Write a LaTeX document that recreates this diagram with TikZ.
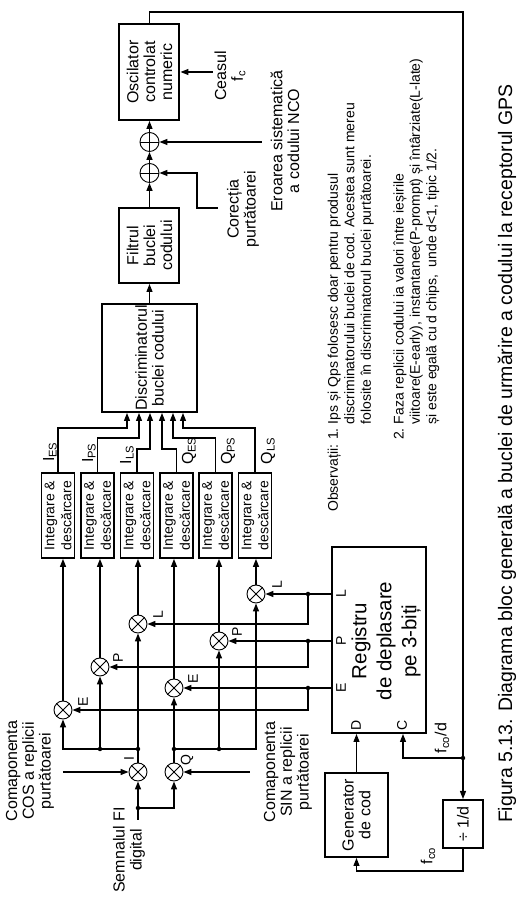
\documentclass[tikz,border=0pt]{standalone}
\usepackage{fontspec}
\setmainfont{Liberation Sans}
\usetikzlibrary{arrows.meta,calc}
\newcommand{\fmain}{\fontsize{16}{16.8}\selectfont}
\newcommand{\fint}{\fontsize{14}{17}\selectfont}
\newcommand{\fnote}{\fontsize{14}{16.4}\selectfont}
\newcommand{\freg}{\fontsize{20.5}{25}\selectfont}
\newcommand{\fcap}{\fontsize{19.5}{22}\selectfont}
\newcommand{\flab}{\fontsize{14}{15}\selectfont}
\begin{document}
\begin{tikzpicture}[
  box/.style={draw, line width=2pt, inner sep=0pt, align=center, font=\fmain},
  intbox/.style={draw, line width=1.8pt, inner sep=0pt, align=center, font=\fint, minimum width=85pt, minimum height=33pt},
  mult/.style={draw, circle, line width=0.9pt, minimum size=18pt, inner sep=0pt},
  conn/.style={line width=1.3pt},
  arr/.style={conn, -{Triangle[length=8pt,width=6pt]}},
  jdot/.style={circle, fill, inner sep=0pt, minimum size=4.5pt},
  lab/.style={font=\flab, inner sep=0pt},
  txt/.style={font=\fmain, align=center, inner sep=0pt},
]
\begin{scope}[rotate=90, transform shape, x={(0pt,-1pt)}, y={(-1pt,0pt)}, shift={(899pt,528pt)}]
\fill[white] (0,0) rectangle (528,899);
\path[use as bounding box] (0,0) rectangle (528,899);

% main blocks
\node[box, minimum width=96pt, minimum height=60pt] (nco) at (149.5,72) {Oscilator\\controlat\\numeric};
\node[mult, minimum size=19pt] (add1) at (149.5,142) {};
\node[mult, minimum size=19pt] (add2) at (149.5,173) {};
\draw[line width=0.9pt] (add1.north) -- (add1.south) (add1.east) -- (add1.west);
\draw[line width=0.9pt] (add2.north) -- (add2.south) (add2.east) -- (add2.west);
\node[box, minimum width=75pt, minimum height=60pt] (filt) at (149.5,245.5) {Filtrul\\buclei\\codului};
\node[box, minimum width=108pt, minimum height=95pt] (disc) at (149.5,358) {Discriminatorul\\buclei codului};

\foreach \n/\xx in {1/58,2/97.5,3/137,4/176.5,5/215.5,6/255}
  \node[intbox] (int\n) at (\xx,515.5) {Integrare \&\\descărcare};

\foreach \nm/\xx/\yy in {mIES/63/710, mIPS/100/667, mILS/138/624, mQES/174/688, mQPS/219/641, mQLS/256/594, mI/138/772, mQ/174/772}{
  \node[mult] (\nm) at (\xx,\yy) {};
  \draw[line width=0.9pt] (\nm.45) -- (\nm.225) (\nm.135) -- (\nm.315);
}

\node[box, minimum width=186pt, minimum height=94pt] (reg) at (379,640) {};
\node[font=\freg, align=center, inner sep=0pt] (regt) at (386,641) {Registru\\de deplasare\\pe 3-biți};
\node[box, minimum width=84pt, minimum height=63pt] (gen) at (356.5,815) {Generator\\de cod};
\node[box, minimum width=48pt, minimum height=40pt] (div) at (463,824) {÷ 1/d};

% coordinates
\coordinate (fi) at (138,820);
\coordinate (fij) at (138,808);
\coordinate (cosS) at (63,772);
\coordinate (sinS) at (250,772);
\coordinate (ib) at (138,749);
\coordinate (ib2) at (100,749);
\coordinate (qb) at (174,749);
\coordinate (qb2) at (219,749);
\coordinate (clk) at (213,72);
\coordinate (err) at (262,142);
\coordinate (cor) at (218,208);
\coordinate (fb) at (463,758);
\coordinate (jL) at (308,594);
\coordinate (jP) at (308,641);
\coordinate (jE) at (308,688);

% input stage
\draw[arr] (fi) -- (mI.west);
\draw[arr] (fij) -- (174,808) -- (mQ.west);
\draw[arr] (cosS) -- (mI.north);
\draw[arr] (sinS) -- (mQ.south);
\draw[arr] (mI.east) -- (mILS.west);
\draw[arr] (ib) -- (63,749) -- (mIES.west);
\draw[arr] (ib2) -- (mIPS.west);
\draw[arr] (mQ.east) -- (mQES.west);
\draw[arr] (qb) -- (256,749) -- (mQLS.west);
\draw[arr] (qb2) -- (mQPS.west);

% multipliers to integrators
\draw[arr] (mIES.east) -- ($(int1.south west)!(mIES)!(int1.north west)$);
\draw[arr] (mIPS.east) -- ($(int2.south west)!(mIPS)!(int2.north west)$);
\draw[arr] (mILS.east) -- ($(int3.south west)!(mILS)!(int3.north west)$);
\draw[arr] (mQES.east) -- ($(int4.south west)!(mQES)!(int4.north west)$);
\draw[arr] (mQPS.east) -- ($(int5.south west)!(mQPS)!(int5.north west)$);
\draw[arr] (mQLS.east) -- ($(int6.south west)!(mQLS)!(int6.north west)$);

% integrators to discriminator
\draw[arr] (int1.east) -- (58,428) -- (127,428) -- ($(disc.south west)!(127,428)!(disc.north west)$);
\draw[arr] (int2.east) -- (97.5,438) -- (139,438) -- ($(disc.south west)!(139,438)!(disc.north west)$);
\draw[arr] (int3.east) -- (137,449) -- (150,449) -- ($(disc.south west)!(150,449)!(disc.north west)$);
\draw[arr] (int4.east) -- (176.5,449) -- (162,449) -- ($(disc.south west)!(162,449)!(disc.north west)$);
\draw[arr] (int5.east) -- (215.5,438) -- (173,438) -- ($(disc.south west)!(173,438)!(disc.north west)$);
\draw[arr] (int6.east) -- (255,428) -- (183,428) -- ($(disc.south west)!(183,428)!(disc.north west)$);

% loop path
\draw[arr] (disc.east) -- (filt.west);
\draw[arr] (filt.east) -- (add2.west);
\draw[arr] (add2.east) -- (add1.west);
\draw[arr] (add1.east) -- (nco.west);
\draw[arr] (clk) -- (nco.south);
\draw[arr] (err) -- (add1.south);
\draw[arr] (cor) -- (197,208) -- (197,173) -- (add2.south);
\draw[arr] (nco.east) -- (149.5,12) -- (463,12) -- (div.east);
\draw[arr] (fb) -- (403,758) -- ($(reg.south west)!(403,758)!(reg.north west)$);
\draw[arr] (gen.east) -- ($(reg.south west)!(gen)!(reg.north west)$);
\draw[arr] (div.west) -- (463,871) -- (356.5,871) -- (gen.west);

% register outputs
\draw[arr] ($(reg.north west)!(jL)!(reg.north east)$) -- (mQLS.south);
\draw[arr] (jL) -- (308,624) -- (mILS.south);
\draw[arr] ($(reg.north west)!(jP)!(reg.north east)$) -- (mQPS.south);
\draw[arr] (jP) -- (308,667) -- (mIPS.south);
\draw[arr] ($(reg.north west)!(jE)!(reg.north east)$) -- (mQES.south);
\draw[arr] (jE) -- (308,710) -- (mIES.south);

\foreach \c in {fij,ib,ib2,qb,qb2,jL,jP,jE,fb} \node[jdot] at (\c) {};

% labels
\node[lab] (rL) at (341,594) {L};
\node[lab] (rP) at (341,641) {P};
\node[lab] (rE) at (341,688) {E};
\node[lab] (rD) at (356,725) {D};
\node[lab] (rC) at (402,725) {C};
\node[lab] (lQLS) at (277,585) {L};
\node[lab] (lILS) at (158,615) {L};
\node[lab] (lQPS) at (237,632) {P};
\node[lab] (lIPS) at (118,658) {P};
\node[lab] (lQES) at (193,679) {E};
\node[lab] (lIES) at (83,702) {E};
\node[lab] (lI) at (129,759) {I};
\node[lab] (lQ) at (187,760) {Q};

\node[txt] (oIES) at (50,452) {I\textsubscript{ES}};
\node[txt] (oIPS) at (89,453) {I\textsubscript{PS}};
\node[txt] (oILS) at (127,455) {I\textsubscript{LS}};
\node[txt] (oQES) at (189,451) {Q\textsubscript{ES}};
\node[txt] (oQPS) at (228,451) {Q\textsubscript{PS}};
\node[txt] (oQLS) at (268,451) {Q\textsubscript{LS}};

\node[txt] (clkt) at (230,76) {Ceasul\\f\textsubscript{c}};
\node[txt] (errt) at (285,141) {Eroarea sistematică\\a codului NCO};
\node[txt] (cort) at (243,209) {Corecția\\purtătoarei};
\node[txt] (cost) at (30,771) {Comaponenta\\COS a replicii\\purtătoarei};
\node[txt] (sint) at (288,772) {Comaponenta\\SIN a replicii\\purtătoarei};
\node[txt] (fit) at (129,850) {Semnalul FI\\digital};
\node[txt] (fcod) at (442,738) {f\textsubscript{co}/d};
\node[txt] (fco) at (428,856) {f\textsubscript{co}};

\node[font=\fnote, anchor=base west, inner sep=0pt] (obs) at (338,512) {Observații:};
\node[font=\fnote, anchor=base west, inner sep=0pt] (notes) at (338,440) {\begin{tabular}[t]{@{}l@{\ }l@{}}
1. & Ips și Qps folosesc doar pentru produsul\\
 & discriminatorului buclei de cod. Acestea sunt mereu\\
 & folosite în discriminatorul buclei purtătoarei.\\
 & \\
2. & Faza replicii codului ia valori între ieșirile\\
 & viitoare(E-early), instantanee(P-prompt) și întârziate(L-late)\\
 & și este egală cu d chips,\ \ unde d<1, tipic 1/2.
\end{tabular}};

\node[font=\fcap, inner sep=0pt] (cap) at (507,453.5) {Figura 5.13. Diagrama bloc generală a buclei de urmărire a codului la receptorul GPS};
\end{scope}
\end{tikzpicture}
\end{document}
